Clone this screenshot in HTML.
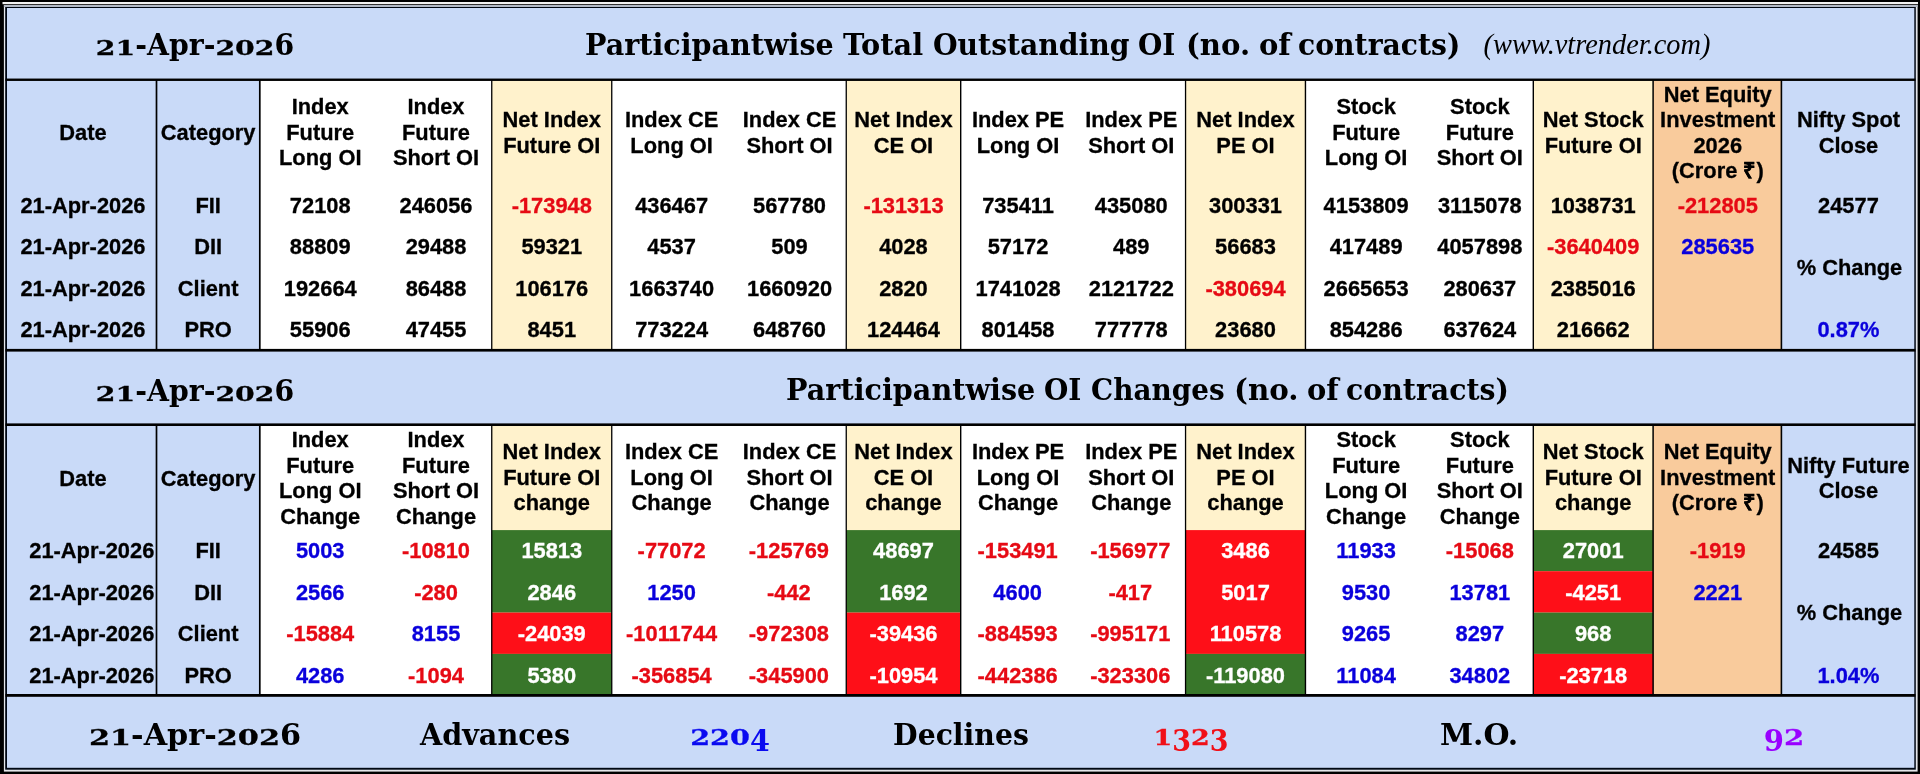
<!DOCTYPE html>
<html lang="en"><head><meta charset="utf-8"><title>Participantwise OI</title>
<style>
html,body{margin:0;padding:0;background:#000;}
body{width:1920px;height:774px;overflow:hidden;position:relative;}
#bg{position:absolute;left:0;top:0;}
.c{filter:blur(.45px);-webkit-text-stroke:.3px currentColor;}
.c{position:absolute;display:flex;align-items:center;justify-content:center;text-align:center;white-space:nowrap;
 font:bold 21.85px/25.5px "Liberation Sans",Arial,Helvetica,sans-serif;color:#000;}
.r{justify-content:flex-end;}
.t{font:bold 29.35px/34px "DejaVu Serif","Liberation Serif",Georgia,serif;transform:scaleX(.965);-webkit-text-stroke:0;}
.w{justify-content:flex-start;transform-origin:0 50%;}
.b{font-size:30.4px;}
.x{display:inline-block;transform:scaleY(.712);transform-origin:50% 27.3px;-webkit-text-stroke:.4px currentColor;}
.b .x{transform-origin:50% 27.7px;}
.d{display:inline-block;transform:translateY(.21em);}
.i{font:italic 28.5px/34px "Liberation Serif","DejaVu Serif",serif;transform:scaleX(.995);}
</style></head><body>
<svg id="bg" width="1920" height="774" viewBox="0 0 1920 774">
<rect x="0.00" y="0.00" width="1920.00" height="774.00" fill="#000"/>
<rect x="2.50" y="2.00" width="1915.50" height="2.20" fill="#f2f2f2"/>
<rect x="3.90" y="5.00" width="1913.70" height="766.60" fill="#e4e6ea"/>
<rect x="3.90" y="5.00" width="1913.70" height="2.00" fill="#b3bac6"/>
<rect x="5.20" y="7.00" width="1910.60" height="762.70" fill="#000814"/>
<rect x="7.00" y="8.00" width="1907.30" height="759.80" fill="#c9daf8"/>
<rect x="259.80" y="79.75" width="1393.30" height="270.50" fill="#fff"/>
<rect x="259.80" y="424.70" width="1393.30" height="270.70" fill="#fff"/>
<rect x="491.75" y="79.75" width="120.00" height="270.50" fill="#fff2cc"/>
<rect x="491.75" y="424.70" width="120.00" height="270.70" fill="#fff2cc"/>
<rect x="846.25" y="79.75" width="114.45" height="270.50" fill="#fff2cc"/>
<rect x="846.25" y="424.70" width="114.45" height="270.70" fill="#fff2cc"/>
<rect x="1185.55" y="79.75" width="119.90" height="270.50" fill="#fff2cc"/>
<rect x="1185.55" y="424.70" width="119.90" height="270.70" fill="#fff2cc"/>
<rect x="1533.30" y="79.75" width="119.80" height="270.50" fill="#fff2cc"/>
<rect x="1533.30" y="424.70" width="119.80" height="270.70" fill="#fff2cc"/>
<rect x="1653.10" y="79.75" width="128.30" height="270.50" fill="#f9cb9c"/>
<rect x="1653.10" y="424.70" width="128.30" height="270.70" fill="#f9cb9c"/>
<rect x="491.75" y="530.10" width="120.00" height="82.50" fill="#38762a"/>
<rect x="491.75" y="612.60" width="120.00" height="41.30" fill="#fe0f18"/>
<rect x="491.75" y="653.90" width="120.00" height="41.50" fill="#38762a"/>
<rect x="846.25" y="530.10" width="114.45" height="82.50" fill="#38762a"/>
<rect x="846.25" y="612.60" width="114.45" height="82.80" fill="#fe0f18"/>
<rect x="1185.55" y="530.10" width="119.90" height="123.80" fill="#fe0f18"/>
<rect x="1185.55" y="653.90" width="119.90" height="41.50" fill="#38762a"/>
<rect x="1533.30" y="530.10" width="119.80" height="41.10" fill="#38762a"/>
<rect x="1533.30" y="571.20" width="119.80" height="41.40" fill="#fe0f18"/>
<rect x="1533.30" y="612.60" width="119.80" height="41.30" fill="#38762a"/>
<rect x="1533.30" y="653.90" width="119.80" height="41.50" fill="#fe0f18"/>
<rect x="155.65" y="79.75" width="1.70" height="270.50" fill="#000"/>
<rect x="155.65" y="424.70" width="1.70" height="270.70" fill="#000"/>
<rect x="258.95" y="79.75" width="1.70" height="270.50" fill="#000"/>
<rect x="258.95" y="424.70" width="1.70" height="270.70" fill="#000"/>
<rect x="491.10" y="79.75" width="1.30" height="270.50" fill="#000"/>
<rect x="491.10" y="424.70" width="1.30" height="270.70" fill="#000"/>
<rect x="611.10" y="79.75" width="1.30" height="270.50" fill="#000"/>
<rect x="611.10" y="424.70" width="1.30" height="270.70" fill="#000"/>
<rect x="845.60" y="79.75" width="1.30" height="270.50" fill="#000"/>
<rect x="845.60" y="424.70" width="1.30" height="270.70" fill="#000"/>
<rect x="960.00" y="79.75" width="1.40" height="270.50" fill="#000"/>
<rect x="960.00" y="424.70" width="1.40" height="270.70" fill="#000"/>
<rect x="1184.90" y="79.75" width="1.30" height="270.50" fill="#000"/>
<rect x="1184.90" y="424.70" width="1.30" height="270.70" fill="#000"/>
<rect x="1304.75" y="79.75" width="1.40" height="270.50" fill="#000"/>
<rect x="1304.75" y="424.70" width="1.40" height="270.70" fill="#000"/>
<rect x="1532.60" y="79.75" width="1.40" height="270.50" fill="#000"/>
<rect x="1532.60" y="424.70" width="1.40" height="270.70" fill="#000"/>
<rect x="1652.35" y="79.75" width="1.50" height="270.50" fill="#000"/>
<rect x="1652.35" y="424.70" width="1.50" height="270.70" fill="#000"/>
<rect x="1780.60" y="79.75" width="1.60" height="270.50" fill="#000"/>
<rect x="1780.60" y="424.70" width="1.60" height="270.70" fill="#000"/>
<rect x="5.50" y="78.55" width="1910.00" height="2.40" fill="#000"/>
<rect x="5.50" y="348.90" width="1910.00" height="2.70" fill="#000"/>
<rect x="5.50" y="423.40" width="1910.00" height="2.60" fill="#000"/>
<rect x="5.50" y="694.00" width="1910.00" height="2.80" fill="#000"/>
</svg>
<div class="c" style="left:-11.80px;top:80.75px;width:189.50px;height:104.75px;">Date</div>
<div class="c" style="left:136.50px;top:80.75px;width:143.30px;height:104.75px;">Category</div>
<div class="c" style="left:241.40px;top:80.15px;width:157.70px;height:104.75px;">Index<br>Future<br>Long OI</div>
<div class="c" style="left:358.90px;top:80.15px;width:154.25px;height:104.75px;">Index<br>Future<br>Short OI</div>
<div class="c" style="left:471.75px;top:80.35px;width:160.00px;height:104.75px;">Net Index<br>Future OI</div>
<div class="c" style="left:593.00px;top:80.35px;width:157.25px;height:104.75px;">Index CE<br>Long OI</div>
<div class="c" style="left:710.90px;top:80.35px;width:157.25px;height:104.75px;">Index CE<br>Short OI</div>
<div class="c" style="left:826.25px;top:80.35px;width:154.45px;height:104.75px;">Net Index<br>CE OI</div>
<div class="c" style="left:941.90px;top:80.35px;width:152.30px;height:104.75px;">Index PE<br>Long OI</div>
<div class="c" style="left:1055.00px;top:80.35px;width:152.55px;height:104.75px;">Index PE<br>Short OI</div>
<div class="c" style="left:1165.55px;top:80.35px;width:159.90px;height:104.75px;">Net Index<br>PE OI</div>
<div class="c" style="left:1288.85px;top:80.15px;width:154.55px;height:104.75px;">Stock<br>Future<br>Long OI</div>
<div class="c" style="left:1403.20px;top:80.15px;width:153.30px;height:104.75px;">Stock<br>Future<br>Short OI</div>
<div class="c" style="left:1513.30px;top:80.35px;width:159.80px;height:104.75px;">Net Stock<br>Future OI</div>
<div class="c" style="left:1633.60px;top:80.55px;width:168.30px;height:104.75px;">Net Equity<br>Investment<br>2026<br>(Crore ₹)</div>
<div class="c" style="left:1762.00px;top:80.35px;width:172.90px;height:104.75px;">Nifty Spot<br>Close</div>
<div class="c" style="left:-11.80px;top:425.70px;width:189.50px;height:105.40px;">Date</div>
<div class="c" style="left:136.50px;top:425.70px;width:143.30px;height:105.40px;">Category</div>
<div class="c" style="left:241.40px;top:425.70px;width:157.70px;height:105.40px;">Index<br>Future<br>Long OI<br>Change</div>
<div class="c" style="left:358.90px;top:425.70px;width:154.25px;height:105.40px;">Index<br>Future<br>Short OI<br>Change</div>
<div class="c" style="left:471.75px;top:424.80px;width:160.00px;height:105.40px;">Net Index<br>Future OI<br>change</div>
<div class="c" style="left:593.00px;top:424.80px;width:157.25px;height:105.40px;">Index CE<br>Long OI<br>Change</div>
<div class="c" style="left:710.90px;top:424.80px;width:157.25px;height:105.40px;">Index CE<br>Short OI<br>Change</div>
<div class="c" style="left:826.25px;top:424.80px;width:154.45px;height:105.40px;">Net Index<br>CE OI<br>change</div>
<div class="c" style="left:941.90px;top:424.80px;width:152.30px;height:105.40px;">Index PE<br>Long OI<br>Change</div>
<div class="c" style="left:1055.00px;top:424.80px;width:152.55px;height:105.40px;">Index PE<br>Short OI<br>Change</div>
<div class="c" style="left:1165.55px;top:424.80px;width:159.90px;height:105.40px;">Net Index<br>PE OI<br>change</div>
<div class="c" style="left:1288.85px;top:425.70px;width:154.55px;height:105.40px;">Stock<br>Future<br>Long OI<br>Change</div>
<div class="c" style="left:1403.20px;top:425.70px;width:153.30px;height:105.40px;">Stock<br>Future<br>Short OI<br>Change</div>
<div class="c" style="left:1513.30px;top:424.80px;width:159.80px;height:105.40px;">Net Stock<br>Future OI<br>change</div>
<div class="c" style="left:1633.60px;top:424.80px;width:168.30px;height:105.40px;">Net Equity<br>Investment<br>(Crore ₹)</div>
<div class="c" style="left:1762.00px;top:425.70px;width:172.90px;height:105.40px;">Nifty Future<br>Close</div>
<div class="c" style="left:-11.80px;top:184.50px;width:189.50px;height:41.50px;">21-Apr-2026</div>
<div class="c" style="left:136.50px;top:184.50px;width:143.30px;height:41.50px;">FII</div>
<div class="c" style="left:241.40px;top:184.50px;width:157.70px;height:41.50px;">72108</div>
<div class="c" style="left:358.90px;top:184.50px;width:154.25px;height:41.50px;">246056</div>
<div class="c" style="left:471.75px;top:184.50px;width:160.00px;height:41.50px;color:#e60a14;">-173948</div>
<div class="c" style="left:593.00px;top:184.50px;width:157.25px;height:41.50px;">436467</div>
<div class="c" style="left:710.90px;top:184.50px;width:157.25px;height:41.50px;">567780</div>
<div class="c" style="left:826.25px;top:184.50px;width:154.45px;height:41.50px;color:#e60a14;">-131313</div>
<div class="c" style="left:941.90px;top:184.50px;width:152.30px;height:41.50px;">735411</div>
<div class="c" style="left:1055.00px;top:184.50px;width:152.55px;height:41.50px;">435080</div>
<div class="c" style="left:1165.55px;top:184.50px;width:159.90px;height:41.50px;">300331</div>
<div class="c" style="left:1288.85px;top:184.50px;width:154.55px;height:41.50px;">4153809</div>
<div class="c" style="left:1403.20px;top:184.50px;width:153.30px;height:41.50px;">3115078</div>
<div class="c" style="left:1513.30px;top:184.50px;width:159.80px;height:41.50px;">1038731</div>
<div class="c" style="left:1633.60px;top:184.50px;width:168.30px;height:41.50px;color:#e60a14;">-212805</div>
<div class="c" style="left:1762.00px;top:184.50px;width:172.90px;height:41.50px;">24577</div>
<div class="c" style="left:-11.80px;top:226.40px;width:189.50px;height:41.50px;">21-Apr-2026</div>
<div class="c" style="left:136.50px;top:226.40px;width:143.30px;height:41.50px;">DII</div>
<div class="c" style="left:241.40px;top:226.40px;width:157.70px;height:41.50px;">88809</div>
<div class="c" style="left:358.90px;top:226.40px;width:154.25px;height:41.50px;">29488</div>
<div class="c" style="left:471.75px;top:226.40px;width:160.00px;height:41.50px;">59321</div>
<div class="c" style="left:593.00px;top:226.40px;width:157.25px;height:41.50px;">4537</div>
<div class="c" style="left:710.90px;top:226.40px;width:157.25px;height:41.50px;">509</div>
<div class="c" style="left:826.25px;top:226.40px;width:154.45px;height:41.50px;">4028</div>
<div class="c" style="left:941.90px;top:226.40px;width:152.30px;height:41.50px;">57172</div>
<div class="c" style="left:1055.00px;top:226.40px;width:152.55px;height:41.50px;">489</div>
<div class="c" style="left:1165.55px;top:226.40px;width:159.90px;height:41.50px;">56683</div>
<div class="c" style="left:1288.85px;top:226.40px;width:154.55px;height:41.50px;">417489</div>
<div class="c" style="left:1403.20px;top:226.40px;width:153.30px;height:41.50px;">4057898</div>
<div class="c" style="left:1513.30px;top:226.40px;width:159.80px;height:41.50px;color:#e60a14;">-3640409</div>
<div class="c" style="left:1633.60px;top:226.40px;width:168.30px;height:41.50px;color:#0a00dc;">285635</div>
<div class="c" style="left:-11.80px;top:268.50px;width:189.50px;height:41.20px;">21-Apr-2026</div>
<div class="c" style="left:136.50px;top:268.50px;width:143.30px;height:41.20px;">Client</div>
<div class="c" style="left:241.40px;top:268.50px;width:157.70px;height:41.20px;">192664</div>
<div class="c" style="left:358.90px;top:268.50px;width:154.25px;height:41.20px;">86488</div>
<div class="c" style="left:471.75px;top:268.50px;width:160.00px;height:41.20px;">106176</div>
<div class="c" style="left:593.00px;top:268.50px;width:157.25px;height:41.20px;">1663740</div>
<div class="c" style="left:710.90px;top:268.50px;width:157.25px;height:41.20px;">1660920</div>
<div class="c" style="left:826.25px;top:268.50px;width:154.45px;height:41.20px;">2820</div>
<div class="c" style="left:941.90px;top:268.50px;width:152.30px;height:41.20px;">1741028</div>
<div class="c" style="left:1055.00px;top:268.50px;width:152.55px;height:41.20px;">2121722</div>
<div class="c" style="left:1165.55px;top:268.50px;width:159.90px;height:41.20px;color:#e60a14;">-380694</div>
<div class="c" style="left:1288.85px;top:268.50px;width:154.55px;height:41.20px;">2665653</div>
<div class="c" style="left:1403.20px;top:268.50px;width:153.30px;height:41.20px;">280637</div>
<div class="c" style="left:1513.30px;top:268.50px;width:159.80px;height:41.20px;">2385016</div>
<div class="c" style="left:-11.80px;top:309.45px;width:189.50px;height:41.55px;">21-Apr-2026</div>
<div class="c" style="left:136.50px;top:309.45px;width:143.30px;height:41.55px;">PRO</div>
<div class="c" style="left:241.40px;top:309.45px;width:157.70px;height:41.55px;">55906</div>
<div class="c" style="left:358.90px;top:309.45px;width:154.25px;height:41.55px;">47455</div>
<div class="c" style="left:471.75px;top:309.45px;width:160.00px;height:41.55px;">8451</div>
<div class="c" style="left:593.00px;top:309.45px;width:157.25px;height:41.55px;">773224</div>
<div class="c" style="left:710.90px;top:309.45px;width:157.25px;height:41.55px;">648760</div>
<div class="c" style="left:826.25px;top:309.45px;width:154.45px;height:41.55px;">124464</div>
<div class="c" style="left:941.90px;top:309.45px;width:152.30px;height:41.55px;">801458</div>
<div class="c" style="left:1055.00px;top:309.45px;width:152.55px;height:41.55px;">777778</div>
<div class="c" style="left:1165.55px;top:309.45px;width:159.90px;height:41.55px;">23680</div>
<div class="c" style="left:1288.85px;top:309.45px;width:154.55px;height:41.55px;">854286</div>
<div class="c" style="left:1403.20px;top:309.45px;width:153.30px;height:41.55px;">637624</div>
<div class="c" style="left:1513.30px;top:309.45px;width:159.80px;height:41.55px;">216662</div>
<div class="c" style="left:1762.00px;top:309.45px;width:172.90px;height:41.55px;color:#0a00dc;">0.87%</div>
<div class="c r" style="left:7.00px;top:530.40px;width:147.30px;height:41.10px;">21-Apr-2026</div>
<div class="c" style="left:136.50px;top:530.40px;width:143.30px;height:41.10px;">FII</div>
<div class="c" style="left:241.40px;top:530.40px;width:157.70px;height:41.10px;color:#0a00dc;">5003</div>
<div class="c" style="left:358.90px;top:530.40px;width:154.25px;height:41.10px;color:#e60a14;">-10810</div>
<div class="c" style="left:471.75px;top:530.40px;width:160.00px;height:41.10px;color:#fff;">15813</div>
<div class="c" style="left:593.00px;top:530.40px;width:157.25px;height:41.10px;color:#e60a14;">-77072</div>
<div class="c" style="left:710.30px;top:530.40px;width:157.25px;height:41.10px;color:#e60a14;">-125769</div>
<div class="c" style="left:826.25px;top:530.40px;width:154.45px;height:41.10px;color:#fff;">48697</div>
<div class="c" style="left:941.50px;top:530.40px;width:152.30px;height:41.10px;color:#e60a14;">-153491</div>
<div class="c" style="left:1054.00px;top:530.40px;width:152.55px;height:41.10px;color:#e60a14;">-156977</div>
<div class="c" style="left:1165.55px;top:530.40px;width:159.90px;height:41.10px;color:#fff;">3486</div>
<div class="c" style="left:1288.85px;top:530.40px;width:154.55px;height:41.10px;color:#0a00dc;">11933</div>
<div class="c" style="left:1403.20px;top:530.40px;width:153.30px;height:41.10px;color:#e60a14;">-15068</div>
<div class="c" style="left:1513.30px;top:530.40px;width:159.80px;height:41.10px;color:#fff;">27001</div>
<div class="c" style="left:1633.60px;top:530.40px;width:168.30px;height:41.10px;color:#e60a14;">-1919</div>
<div class="c" style="left:1762.00px;top:530.40px;width:172.90px;height:41.10px;">24585</div>
<div class="c r" style="left:7.00px;top:572.15px;width:147.30px;height:41.40px;">21-Apr-2026</div>
<div class="c" style="left:136.50px;top:572.15px;width:143.30px;height:41.40px;">DII</div>
<div class="c" style="left:241.40px;top:572.15px;width:157.70px;height:41.40px;color:#0a00dc;">2566</div>
<div class="c" style="left:358.90px;top:572.15px;width:154.25px;height:41.40px;color:#e60a14;">-280</div>
<div class="c" style="left:471.75px;top:572.15px;width:160.00px;height:41.40px;color:#fff;">2846</div>
<div class="c" style="left:593.00px;top:572.15px;width:157.25px;height:41.40px;color:#0a00dc;">1250</div>
<div class="c" style="left:710.30px;top:572.15px;width:157.25px;height:41.40px;color:#e60a14;">-442</div>
<div class="c" style="left:826.25px;top:572.15px;width:154.45px;height:41.40px;color:#fff;">1692</div>
<div class="c" style="left:941.50px;top:572.15px;width:152.30px;height:41.40px;color:#0a00dc;">4600</div>
<div class="c" style="left:1054.00px;top:572.15px;width:152.55px;height:41.40px;color:#e60a14;">-417</div>
<div class="c" style="left:1165.55px;top:572.15px;width:159.90px;height:41.40px;color:#fff;">5017</div>
<div class="c" style="left:1288.85px;top:572.15px;width:154.55px;height:41.40px;color:#0a00dc;">9530</div>
<div class="c" style="left:1403.20px;top:572.15px;width:153.30px;height:41.40px;color:#0a00dc;">13781</div>
<div class="c" style="left:1513.30px;top:572.15px;width:159.80px;height:41.40px;color:#fff;">-4251</div>
<div class="c" style="left:1633.60px;top:572.15px;width:168.30px;height:41.40px;color:#0a00dc;">2221</div>
<div class="c r" style="left:7.00px;top:613.00px;width:147.30px;height:41.30px;">21-Apr-2026</div>
<div class="c" style="left:136.50px;top:613.00px;width:143.30px;height:41.30px;">Client</div>
<div class="c" style="left:241.40px;top:613.00px;width:157.70px;height:41.30px;color:#e60a14;">-15884</div>
<div class="c" style="left:358.90px;top:613.00px;width:154.25px;height:41.30px;color:#0a00dc;">8155</div>
<div class="c" style="left:471.75px;top:613.00px;width:160.00px;height:41.30px;color:#fff;">-24039</div>
<div class="c" style="left:593.00px;top:613.00px;width:157.25px;height:41.30px;color:#e60a14;">-1011744</div>
<div class="c" style="left:710.30px;top:613.00px;width:157.25px;height:41.30px;color:#e60a14;">-972308</div>
<div class="c" style="left:826.25px;top:613.00px;width:154.45px;height:41.30px;color:#fff;">-39436</div>
<div class="c" style="left:941.50px;top:613.00px;width:152.30px;height:41.30px;color:#e60a14;">-884593</div>
<div class="c" style="left:1054.00px;top:613.00px;width:152.55px;height:41.30px;color:#e60a14;">-995171</div>
<div class="c" style="left:1165.55px;top:613.00px;width:159.90px;height:41.30px;color:#fff;">110578</div>
<div class="c" style="left:1288.85px;top:613.00px;width:154.55px;height:41.30px;color:#0a00dc;">9265</div>
<div class="c" style="left:1403.20px;top:613.00px;width:153.30px;height:41.30px;color:#0a00dc;">8297</div>
<div class="c" style="left:1513.30px;top:613.00px;width:159.80px;height:41.30px;color:#fff;">968</div>
<div class="c r" style="left:7.00px;top:654.80px;width:147.30px;height:41.50px;">21-Apr-2026</div>
<div class="c" style="left:136.50px;top:654.80px;width:143.30px;height:41.50px;">PRO</div>
<div class="c" style="left:241.40px;top:654.80px;width:157.70px;height:41.50px;color:#0a00dc;">4286</div>
<div class="c" style="left:358.90px;top:654.80px;width:154.25px;height:41.50px;color:#e60a14;">-1094</div>
<div class="c" style="left:471.75px;top:654.80px;width:160.00px;height:41.50px;color:#fff;">5380</div>
<div class="c" style="left:593.00px;top:654.80px;width:157.25px;height:41.50px;color:#e60a14;">-356854</div>
<div class="c" style="left:710.30px;top:654.80px;width:157.25px;height:41.50px;color:#e60a14;">-345900</div>
<div class="c" style="left:826.25px;top:654.80px;width:154.45px;height:41.50px;color:#fff;">-10954</div>
<div class="c" style="left:941.50px;top:654.80px;width:152.30px;height:41.50px;color:#e60a14;">-442386</div>
<div class="c" style="left:1054.00px;top:654.80px;width:152.55px;height:41.50px;color:#e60a14;">-323306</div>
<div class="c" style="left:1165.55px;top:654.80px;width:159.90px;height:41.50px;color:#fff;">-119080</div>
<div class="c" style="left:1288.85px;top:654.80px;width:154.55px;height:41.50px;color:#0a00dc;">11084</div>
<div class="c" style="left:1403.20px;top:654.80px;width:153.30px;height:41.50px;color:#0a00dc;">34802</div>
<div class="c" style="left:1513.30px;top:654.80px;width:159.80px;height:41.50px;color:#fff;">-23718</div>
<div class="c" style="left:1762.00px;top:654.80px;width:172.90px;height:41.50px;color:#0a00dc;">1.04%</div>
<div class="c" style="left:1783.00px;top:226.70px;width:132.90px;height:82.70px;">% Change</div>
<div class="c" style="left:1783.00px;top:571.90px;width:132.90px;height:82.70px;">% Change</div>
<div class="c t" style="left:-305.30px;top:9.10px;width:1000.00px;height:71.75px;"><span class="x">21</span>-Apr-<span class="x">202</span>6</div>
<div class="c t w" style="left:584.63px;top:9.10px;width:400.00px;height:71.75px;transform:scaleX(0.9736);">Participantwise</div>
<div class="c t w" style="left:843.30px;top:9.10px;width:400.00px;height:71.75px;transform:scaleX(0.9809);">Total</div>
<div class="c t w" style="left:932.94px;top:9.10px;width:400.00px;height:71.75px;transform:scaleX(0.9617);">Outstanding</div>
<div class="c t w" style="left:1138.20px;top:9.10px;width:400.00px;height:71.75px;transform:scaleX(0.9491);">OI</div>
<div class="c t w" style="left:1185.71px;top:9.10px;width:400.00px;height:71.75px;transform:scaleX(0.9939);">(no.</div>
<div class="c t w" style="left:1258.91px;top:9.10px;width:400.00px;height:71.75px;transform:scaleX(0.9890);">of</div>
<div class="c t w" style="left:1298.44px;top:9.10px;width:400.00px;height:71.75px;transform:scaleX(0.9630);">contracts)</div>
<div class="c t i" style="left:1097.00px;top:9.10px;width:1000.00px;height:71.75px;">(www.vtrender.com)</div>
<div class="c t" style="left:-305.30px;top:353.35px;width:1000.00px;height:74.45px;"><span class="x">21</span>-Apr-<span class="x">202</span>6</div>
<div class="c t w" style="left:786.12px;top:352.65px;width:400.00px;height:74.45px;transform:scaleX(0.9759);">Participantwise</div>
<div class="c t w" style="left:1044.45px;top:352.65px;width:400.00px;height:74.45px;transform:scaleX(0.9505);">OI</div>
<div class="c t w" style="left:1091.35px;top:352.65px;width:400.00px;height:74.45px;transform:scaleX(0.9489);">Changes</div>
<div class="c t w" style="left:1233.80px;top:352.65px;width:400.00px;height:74.45px;transform:scaleX(1.0005);">(no.</div>
<div class="c t w" style="left:1306.71px;top:352.65px;width:400.00px;height:74.45px;transform:scaleX(0.9860);">of</div>
<div class="c t w" style="left:1346.43px;top:352.65px;width:400.00px;height:74.45px;transform:scaleX(0.9666);">contracts)</div>
<div class="c t b" style="left:-305.10px;top:697.40px;width:1000.00px;height:72.40px;transform:scaleX(0.996);"><span class="x">21</span>-Apr-<span class="x">202</span>6</div>
<div class="c t b" style="left:-4.70px;top:697.40px;width:1000.00px;height:72.40px;transform:scaleX(0.943);">Advances</div>
<div class="c t b" style="left:229.50px;top:697.40px;width:1000.00px;height:72.40px;color:#0a0af0;transform:scaleX(0.941);"><span class="x">220</span><span class="d">4</span></div>
<div class="c t b" style="left:460.80px;top:697.40px;width:1000.00px;height:72.40px;transform:scaleX(0.931);">Declines</div>
<div class="c t b" style="left:690.50px;top:697.40px;width:1000.00px;height:72.40px;color:#f01018;transform:scaleX(0.887);"><span class="x">1</span><span class="d">3</span><span class="x">2</span><span class="d">3</span></div>
<div class="c t b" style="left:978.90px;top:697.40px;width:1000.00px;height:72.40px;transform:scaleX(0.982);">M.O.</div>
<div class="c t b" style="left:1284.00px;top:697.40px;width:1000.00px;height:72.40px;color:#90f;transform:scaleX(0.956);"><span class="d">9</span><span class="x">2</span></div>
</body></html>
